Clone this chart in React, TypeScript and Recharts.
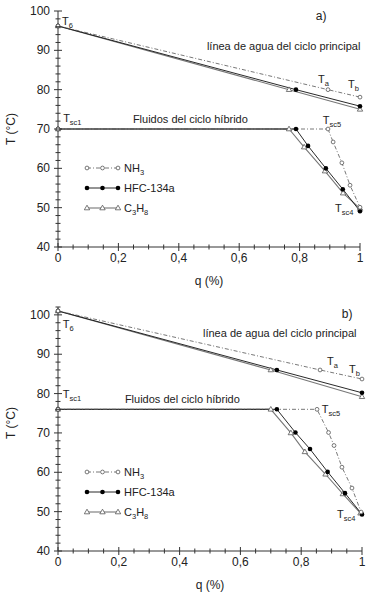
import React from 'react';
import { LineChart, Line, XAxis, YAxis, ReferenceDot, Legend } from 'recharts';

type Pt = { q: number; T: number };
type Nota = { q: number; T: number; base: string; sub?: string; anchor?: 'start' | 'middle'; size?: number };

const FONT = '"Liberation Sans", Arial, sans-serif';

// ticks
const qTicks = [0, 0.05, 0.1, 0.15, 0.2, 0.25, 0.3, 0.35, 0.4, 0.45, 0.5, 0.55, 0.6, 0.65, 0.7, 0.75, 0.8, 0.85, 0.9, 0.95, 1];
const tTicksA = [40, 42, 44, 46, 48, 50, 52, 54, 56, 58, 60, 62, 64, 66, 68, 70, 72, 74, 76, 78, 80, 82, 84, 86, 88, 90, 92, 94, 96, 98, 100];
const tTicksB = [40, 42, 44, 46, 48, 50, 52, 54, 56, 58, 60, 62, 64, 66, 68, 70, 72, 74, 76, 78, 80, 82, 84, 86, 88, 90, 92, 94, 96, 98, 100, 102];

// a) linea de agua
const aguaA_NH3: Pt[] = [{ q: 0, T: 96.2 }, { q: 0.894, T: 80 }, { q: 1, T: 78.1 }];
const aguaA_HFC: Pt[] = [{ q: 0, T: 96.2 }, { q: 0.788, T: 80 }, { q: 1, T: 75.8 }];
const aguaA_C3H8: Pt[] = [{ q: 0, T: 96.2 }, { q: 0.765, T: 80 }, { q: 1, T: 75 }];
// a) fluidos del ciclo hibrido
const hibA_NH3: Pt[] = [{ q: 0, T: 70 }, { q: 0.894, T: 70 }, { q: 0.911, T: 66.7 }, { q: 0.94, T: 61.4 }, { q: 0.967, T: 55.7 }, { q: 1, T: 50.1 }];
const hibA_HFC: Pt[] = [{ q: 0, T: 70 }, { q: 0.788, T: 70 }, { q: 0.828, T: 65.7 }, { q: 0.887, T: 60 }, { q: 0.943, T: 54.7 }, { q: 1, T: 49.1 }];
const hibA_C3H8: Pt[] = [{ q: 0, T: 70 }, { q: 0.765, T: 70 }, { q: 0.815, T: 65.4 }, { q: 0.884, T: 59.3 }, { q: 0.944, T: 53.7 }, { q: 1, T: 49.8 }];

// b) linea de agua
const aguaB_NH3: Pt[] = [{ q: 0, T: 101 }, { q: 0.862, T: 86 }, { q: 1, T: 83.7 }];
const aguaB_HFC: Pt[] = [{ q: 0, T: 101 }, { q: 0.72, T: 86 }, { q: 1, T: 80.2 }];
const aguaB_C3H8: Pt[] = [{ q: 0, T: 101 }, { q: 0.7, T: 86 }, { q: 1, T: 79.2 }];
// b) fluidos del ciclo hibrido
const hibB_NH3: Pt[] = [{ q: 0, T: 76 }, { q: 0.852, T: 76 }, { q: 0.89, T: 70.1 }, { q: 0.908, T: 66.8 }, { q: 0.934, T: 61.3 }, { q: 0.967, T: 56 }, { q: 0.997, T: 49.9 }];
const hibB_HFC: Pt[] = [{ q: 0, T: 76 }, { q: 0.72, T: 76 }, { q: 0.781, T: 70.1 }, { q: 0.829, T: 65.9 }, { q: 0.887, T: 60.1 }, { q: 0.944, T: 54.7 }, { q: 1, T: 49.3 }];
const hibB_C3H8: Pt[] = [{ q: 0, T: 76 }, { q: 0.7, T: 76 }, { q: 0.766, T: 70 }, { q: 0.812, T: 65.2 }, { q: 0.88, T: 59.5 }, { q: 0.937, T: 54.5 }, { q: 0.995, T: 49.6 }];

const notasA: Nota[] = [
  { q: 0.013, T: 96.4, base: 'T', sub: '6' },
  { q: 0.861, T: 81.7, base: 'T', sub: 'a' },
  { q: 0.96, T: 80.4, base: 'T', sub: 'b' },
  { q: 0.017, T: 71.8, base: 'T', sub: 'sc1' },
  { q: 0.877, T: 71.3, base: 'T', sub: 'sc5' },
  { q: 0.917, T: 48.9, base: 'T', sub: 'sc4' },
  { q: 0.871, T: 97.7, base: 'a)', anchor: 'middle', size: 12 },
  { q: 0.493, T: 90.1, base: 'línea de agua del ciclo principal' },
  { q: 0.248, T: 71.5, base: 'Fluidos del ciclo híbrido' },
];

const notasB: Nota[] = [
  { q: 0.016, T: 96.7, base: 'T', sub: '6' },
  { q: 0.885, T: 87.3, base: 'T', sub: 'a' },
  { q: 0.957, T: 85.3, base: 'T', sub: 'b' },
  { q: 0.016, T: 78.9, base: 'T', sub: 'sc1' },
  { q: 0.868, T: 75.1, base: 'T', sub: 'sc5' },
  { q: 0.918, T: 48.4, base: 'T', sub: 'sc4' },
  { q: 0.951, T: 99.2, base: 'b)', anchor: 'middle', size: 12 },
  { q: 0.477, T: 94.4, base: 'línea de agua del ciclo principal' },
  { q: 0.22, T: 77.6, base: 'Fluidos del ciclo híbrido' },
];

const AXIS = '#333';

const openCircle = (cx: number, cy: number, k: string) => (
  <circle key={k} cx={cx} cy={cy} r={1.9} fill="#fff" stroke="#555" strokeWidth={0.8} />
);
const filledDot = (cx: number, cy: number, k: string) => (
  <circle key={k} cx={cx} cy={cy} r={2.3} fill="#000" stroke="none" />
);
const triangle = (cx: number, cy: number, k: string) => (
  <path key={k} d={`M${cx},${cy - 2.8}L${cx + 2.7},${cy + 1.8}L${cx - 2.7},${cy + 1.8}Z`} fill="#fff" stroke="#555" strokeWidth={0.8} />
);

const estilos = {
  NH3: { stroke: '#555', width: 0.8, dash: '4 2 1 2', mark: openCircle },
  HFC: { stroke: '#111', width: 0.9, dash: undefined, mark: filledDot },
  C3H8: { stroke: '#777', width: 1.1, dash: undefined, mark: triangle },
};

const fmtQ = (v: number) => (v === 0 ? '0' : v === 1 ? '1' : v.toFixed(1).replace('.', ','));

const XTick = (p: any) => {
  const v = p.payload.value;
  const major = Math.abs(v * 5 - Math.round(v * 5)) < 1e-6;
  return (
    <g>
      <line x1={p.x} x2={p.x} y1={p.y - (major ? 4 : 2.5)} y2={p.y + (major ? 4 : 2.5)} stroke={AXIS} />
      {major && (
        <text x={p.x} y={p.y + 15} textAnchor="middle" fontSize={12} fontFamily={FONT} fill="#222">
          {fmtQ(v)}
        </text>
      )}
    </g>
  );
};

const YTick = (p: any) => {
  const v = p.payload.value;
  const major = v % 10 === 0;
  return (
    <g>
      <line x1={p.x - (major ? 4 : 2.5)} x2={p.x + (major ? 4 : 2.5)} y1={p.y} y2={p.y} stroke={AXIS} />
      {major && (
        <text x={p.x - 8} y={p.y + 4} textAnchor="end" fontSize={12} fontFamily={FONT} fill="#222">
          {v}
        </text>
      )}
    </g>
  );
};

const renderNota = (n: Nota, i: number) => (
  <ReferenceDot
    key={i}
    x={n.q}
    y={n.T}
    r={0}
    ifOverflow="visible"
    fill="none"
    stroke="none"
    label={(p: any) => (
      <text
        x={p.viewBox.x}
        y={p.viewBox.y}
        textAnchor={n.anchor || 'start'}
        fontSize={n.size || 11}
        fontFamily={FONT}
        fill="#222"
      >
        {n.base}
        {n.sub && (
          <tspan dy={3} fontSize={7.5}>
            {n.sub}
          </tspan>
        )}
      </text>
    )}
  />
);

const Leyenda = () => {
  const rows = [
    { key: 'NH3' as const, name: <>NH<tspan dy={3} fontSize={7.5}>3</tspan></> },
    { key: 'HFC' as const, name: <>HFC-134a</> },
    { key: 'C3H8' as const, name: <>C<tspan dy={3} fontSize={7.5}>3</tspan><tspan dy={-3}>H</tspan><tspan dy={3} fontSize={7.5}>8</tspan></> },
  ];
  return (
    <svg width={110} height={56}>
      {rows.map((r, i) => {
        const s = estilos[r.key];
        const y = 8 + i * 20;
        return (
          <g key={r.key}>
            <line x1={3} x2={34} y1={y} y2={y} stroke={s.stroke} strokeWidth={s.width} strokeDasharray={s.dash} />
            {s.mark(3, y, 'a')}
            {s.mark(18.5, y, 'b')}
            {s.mark(34, y, 'c')}
            <text x={40} y={y + 4} fontSize={11} fontFamily={FONT} fill="#222">
              {r.name}
            </text>
          </g>
        );
      })}
    </svg>
  );
};

const serie = (id: string, data: Pt[], k: keyof typeof estilos) => {
  const s = estilos[k];
  return (
    <Line
      key={id}
      data={data}
      dataKey="T"
      type="linear"
      stroke={s.stroke}
      strokeWidth={s.width}
      strokeDasharray={s.dash}
      isAnimationActive={false}
      activeDot={false}
      dot={(p: any) => s.mark(p.cx, p.cy, `${id}-${p.index}`)}
    />
  );
};

type PanelProps = {
  height: number;
  margin: { top: number; right: number; left: number; bottom: number };
  xAxisHeight: number;
  tTicks: number[];
  tDomain: [number, number];
  agua: [Pt[], Pt[], Pt[]];
  hib: [Pt[], Pt[], Pt[]];
  notas: Nota[];
  legendTop: number;
  yLabelShift: number;
};

function Panel({ height, margin, xAxisHeight, tTicks, tDomain, agua, hib, notas, legendTop, yLabelShift }: PanelProps) {
  return (
    <LineChart width={372} height={height} margin={margin}>
      <XAxis
        type="number"
        dataKey="q"
        domain={[0, 1]}
        ticks={qTicks}
        interval={0}
        tick={XTick}
        tickLine={false}
        tickSize={0}
        tickMargin={0}
        height={xAxisHeight}
        stroke={AXIS}
        label={(p: any) => (
          <text
            x={p.viewBox.x + p.viewBox.width / 2}
            y={p.viewBox.y + 38}
            textAnchor="middle"
            fontSize={12}
            fontFamily={FONT}
            fill="#222"
          >
            q (%)
          </text>
        )}
      />
      <YAxis
        type="number"
        domain={tDomain}
        ticks={tTicks}
        interval={0}
        tick={YTick}
        tickLine={false}
        tickSize={0}
        tickMargin={0}
        width={58}
        stroke={AXIS}
        label={(p: any) => {
          const cx = 15;
          const cy = p.viewBox.y + p.viewBox.height / 2 + yLabelShift;
          return (
            <text
              x={cx}
              y={cy}
              transform={`rotate(-90 ${cx} ${cy})`}
              textAnchor="middle"
              fontSize={12}
              fontFamily={FONT}
              fill="#222"
            >
              T (°C)
            </text>
          );
        }}
      />
      {serie('aC3', agua[2], 'C3H8')}
      {serie('aHFC', agua[1], 'HFC')}
      {serie('aNH3', agua[0], 'NH3')}
      {serie('hC3', hib[2], 'C3H8')}
      {serie('hHFC', hib[1], 'HFC')}
      {serie('hNH3', hib[0], 'NH3')}
      {notas.map(renderNota)}
      <Legend
        layout="vertical"
        align="center"
        verticalAlign="middle"
        content={() => <Leyenda />}
        wrapperStyle={{ position: 'absolute', left: 84, top: legendTop, width: 110, height: 56 }}
      />
    </LineChart>
  );
}

export default function App() {
  return (
    <div style={{ position: 'absolute', left: 0, top: 0, width: 372, height: 593, background: '#fff' }}>
      <div style={{ position: 'absolute', left: 0, top: 0 }}>
        <Panel
          height={290}
          margin={{ top: 11, right: 12, left: 0, bottom: 0 }}
          xAxisHeight={43}
          tTicks={tTicksA}
          tDomain={[40, 100]}
          agua={[aguaA_NH3, aguaA_HFC, aguaA_C3H8]}
          hib={[hibA_NH3, hibA_HFC, hibA_C3H8]}
          notas={notasA}
          legendTop={160}
          yLabelShift={0}
        />
      </div>
      <div style={{ position: 'absolute', left: 0, top: 290 }}>
        <Panel
          height={303}
          margin={{ top: 17, right: 10, left: 0, bottom: 0 }}
          xAxisHeight={42}
          tTicks={tTicksB}
          tDomain={[40, 102]}
          agua={[aguaB_NH3, aguaB_HFC, aguaB_C3H8]}
          hib={[hibB_NH3, hibB_HFC, hibB_C3H8]}
          notas={notasB}
          legendTop={174}
          yLabelShift={-6}
        />
      </div>
    </div>
  );
}
